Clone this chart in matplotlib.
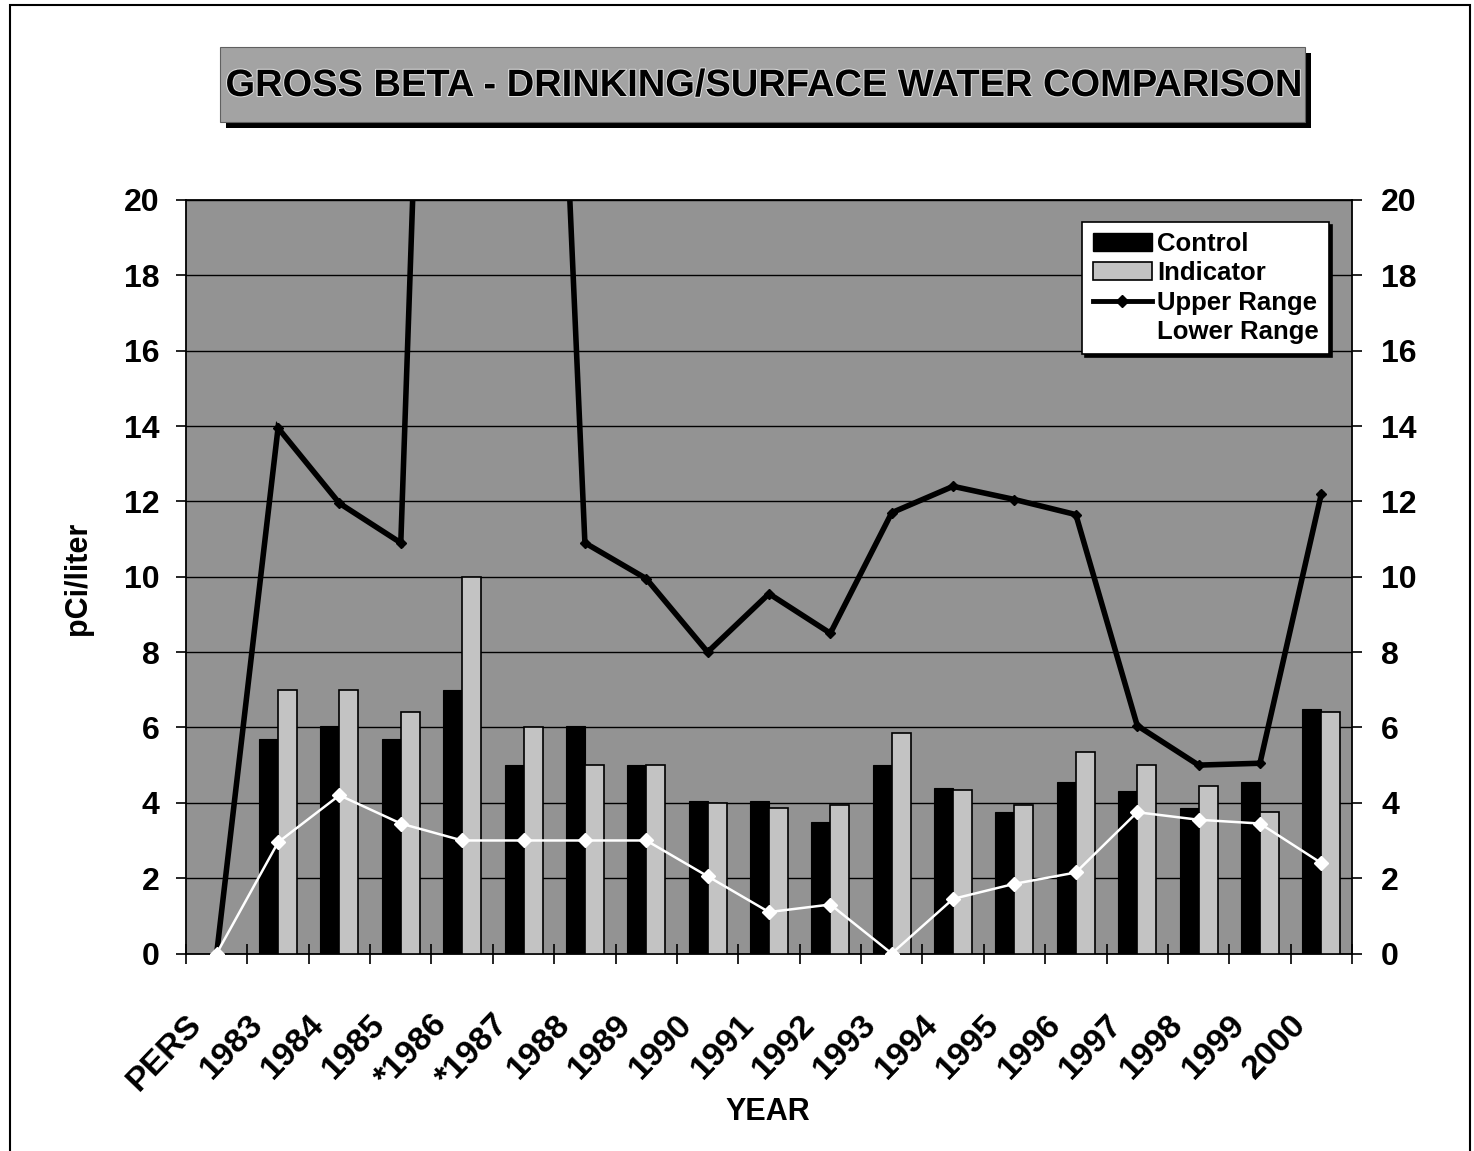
import numpy as np
import matplotlib
matplotlib.use("Agg")
import matplotlib.pyplot as plt
from matplotlib.patches import Rectangle, Patch
from matplotlib.lines import Line2D
from matplotlib.transforms import ScaledTranslation
import matplotlib.patheffects as pe

plt.rcParams['font.family'] = ['Liberation Sans', 'DejaVu Sans']
plt.rcParams['font.weight'] = 'bold'

# ---------------- data ----------------
categories = ["PERS", "1983", "1984", "1985", "*1986", "*1987", "1988", "1989", "1990",
              "1991", "1992", "1993", "1994", "1995", "1996", "1997", "1998", "1999", "2000"]
control = [np.nan, 5.7, 6.05, 5.7, 7.0, 5.0, 6.05, 5.0, 4.05,
           4.05, 3.5, 5.0, 4.4, 3.75, 4.55, 4.3, 3.85, 4.55, 6.5]
indicator = [np.nan, 7.0, 7.0, 6.4, 10.0, 6.0, 5.0, 5.0, 4.0,
             3.85, 3.95, 5.85, 4.35, 3.95, 5.35, 5.0, 4.45, 3.75, 6.4]
upper_range = [0.0, 13.95, 11.95, 10.9, 58.0, 48.0, 10.9, 9.95, 8.0,
               9.55, 8.5, 11.7, 12.4, 12.05, 11.65, 6.05, 5.0, 5.05, 12.2]
lower_range = [0.0, 2.95, 4.2, 3.45, 3.0, 3.0, 3.0, 3.0, 2.05,
               1.1, 1.3, 0.0, 1.45, 1.85, 2.15, 3.75, 3.55, 3.45, 2.4]
y_ticks = [0, 2, 4, 6, 8, 10, 12, 14, 16, 18, 20]
title = "GROSS BETA - DRINKING/SURFACE WATER COMPARISON"

# ---------------- figure ----------------
W, H = 1474, 1151
fig = plt.figure(figsize=(W / 100, H / 100), dpi=100)

def fx(px):
    return px / W

def fy(py):
    return 1 - py / H

# outer frame
fig.patches.append(Rectangle((fx(10), fy(1160)), fx(1470) - fx(10), fy(5) - fy(1160),
                             transform=fig.transFigure, fill=False, edgecolor='black',
                             linewidth=1.5, zorder=0))

# title box with shadow
bx0, bx1, by0, by1 = 220, 1305, 47, 122
fig.patches.append(Rectangle((fx(bx0 + 6), fy(by1 + 6)), fx(bx1) - fx(bx0), fy(by0) - fy(by1),
                             transform=fig.transFigure, facecolor='black', edgecolor='none', zorder=1))
fig.patches.append(Rectangle((fx(bx0), fy(by1)), fx(bx1) - fx(bx0), fy(by0) - fy(by1),
                             transform=fig.transFigure, facecolor='#a3a3a3', edgecolor='#606060',
                             linewidth=0.8, zorder=2))
fig.text(fx((bx0 + bx1) / 2), fy(86), title, ha='center', va='center', fontsize=27.4,
         fontweight='bold', color='black', zorder=3,
         path_effects=[pe.withStroke(linewidth=1.5, foreground='#dddddd')])

# axes
left, right, top, bottom = 186, 1352, 200, 953.5
ax = fig.add_axes([fx(left), fy(bottom), fx(right) - fx(left), fy(top) - fy(bottom)])
ax.set_facecolor('#939393')

x = np.arange(len(categories))
w = 0.31
ax.bar(x - w / 2, control, width=w, color='black', edgecolor='black', linewidth=0.8, zorder=3,
       label='Control')
ax.bar(x + w / 2, indicator, width=w, color='#c3c3c3', edgecolor='black', linewidth=1.2, zorder=3,
       label='Indicator')
ax.plot(x, upper_range, color='black', linewidth=4.0, marker='D', markersize=5,
        markerfacecolor='black', zorder=5, solid_joinstyle='miter')
ax.plot(x, lower_range, color='white', linewidth=1.8, marker='D', markersize=7.5,
        markerfacecolor='white', markeredgecolor='white', zorder=6, clip_on=False)

ax.set_xlim(-0.5, len(categories) - 0.5)
ax.set_ylim(0, 20)
ax.set_yticks(y_ticks)
ax.yaxis.grid(True, color='black', linewidth=1.0, zorder=1)
ax.set_axisbelow(True)
for s in ax.spines.values():
    s.set_color('black')
    s.set_linewidth(1.3)

ax.set_xticks(np.arange(len(categories) + 1) - 0.5)
ax.set_xticklabels([])
ax.tick_params(axis='x', direction='inout', length=15, width=1.2, color='black')
ax.tick_params(axis='y', direction='out', length=7, width=1.2, labelsize=23, pad=12)
for lab in ax.get_yticklabels():
    lab.set_fontweight('bold')

off = ScaledTranslation(-20 / 100, -66 / 100, fig.dpi_scale_trans)
for i, c in enumerate(categories):
    ax.text(i, 0, c, transform=ax.get_xaxis_transform() + off, rotation=46,
            rotation_mode='anchor', ha='right', va='center', fontsize=24.5, fontweight='bold')

ax.set_ylabel('pCi/liter', fontsize=22, fontweight='bold')
ax.yaxis.set_label_coords((93 - left) / (right - left), (bottom - 578) / (bottom - top))
ax.set_xlabel('YEAR', fontsize=22, fontweight='bold')
ax.xaxis.set_label_coords(0.499, (bottom - 1097) / (bottom - top))

ax2 = ax.twinx()
ax2.set_ylim(0, 20)
ax2.set_yticks(y_ticks)
ax2.tick_params(axis='y', direction='out', length=7, width=1.2, labelsize=23, pad=14)
for lab in ax2.get_yticklabels():
    lab.set_fontweight('bold')
for s in ax2.spines.values():
    s.set_visible(False)

handles = [Patch(facecolor='black', edgecolor='black'),
           Patch(facecolor='#c3c3c3', edgecolor='black', linewidth=1.2),
           Line2D([], [], color='black', linewidth=3.5, marker='D', markersize=6),
           Line2D([], [], color='white', linewidth=1.8, marker='D', markersize=6)]
labels = ['Control', 'Indicator', 'Upper Range', 'Lower Range']
leg = ax2.legend(handles, labels, loc='upper right',
                 bbox_to_anchor=((1329 - left) / (right - left), (bottom - 222) / (bottom - top)),
                 borderaxespad=0, fancybox=False, framealpha=1, edgecolor='black',
                 prop={'size': 18.5, 'weight': 'bold'}, handlelength=2.3, handletextpad=0.2,
                 labelspacing=0.2, borderpad=0.4,
                 shadow={'color': 'black', 'alpha': 1})
leg.get_frame().set_linewidth(1.2)
leg.set_zorder(10)

fig.savefig('out.png', dpi=100)
